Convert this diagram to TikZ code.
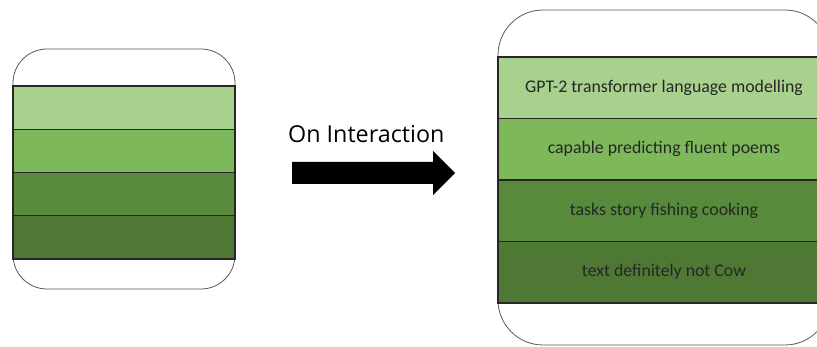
\documentclass[tikz,border=0pt]{standalone}
\usepackage{fontspec}
\setmainfont{Carlito}
\newfontfamily\labelfont{Open Sans}
\usetikzlibrary{positioning}

\definecolor{layerA}{HTML}{A9D18E}
\definecolor{layerB}{HTML}{7DB85A}
\definecolor{layerC}{HTML}{578A3A}
\definecolor{layerD}{HTML}{4E7833}
\definecolor{framegray}{HTML}{595959}

\begin{document}
\begin{tikzpicture}[x=1pt,y=-1pt,
	frame/.style={draw=framegray, line width=0.8pt, fill=white},
	layer/.style={draw=black!85, line width=1.1pt, anchor=north west, inner sep=0pt, outer sep=0pt},
	small/.style={layer, minimum width=222pt, minimum height=43.25pt},
	big/.style={layer, minimum width=332pt, minimum height=61.5pt, font=\fontsize{17.8}{20}\selectfont, text=black!85}]

	\useasboundingbox (0,0) rectangle (817,347);
	\clip (0,0) rectangle (817,347);

	% left stack
	\draw[frame, rounded corners=34pt] (13,49) rectangle (235,289);
	\node[small, fill=layerA] (sa) at (13,86) {};
	\node[small, fill=layerB, below=0pt of sa] (sb) {};
	\node[small, fill=layerC, below=0pt of sb] (sc) {};
	\node[small, fill=layerD, below=0pt of sc] (sd) {};

	% arrow
	\node[font=\labelfont\fontsize{23.3}{26}\selectfont, anchor=base west, inner sep=0pt] (on) at (288,143) {On Interaction};
	\fill (292,162) -- (433,162) -- (433,151) -- (455,173) -- (433,195) -- (433,184) -- (292,184) -- cycle;

	% right stack
	\draw[frame, rounded corners=45pt] (498,10) rectangle (830,345);
	\node[big, fill=layerA] (ba) at (498,57) {GPT-2 transformer language modelling};
	\node[big, fill=layerB, below=0pt of ba] (bb) {capable predicting fluent poems};
	\node[big, fill=layerC, below=0pt of bb] (bc) {tasks story fishing cooking};
	\node[big, fill=layerD, below=0pt of bc] (bd) {text definitely not Cow};
\end{tikzpicture}
\end{document}
